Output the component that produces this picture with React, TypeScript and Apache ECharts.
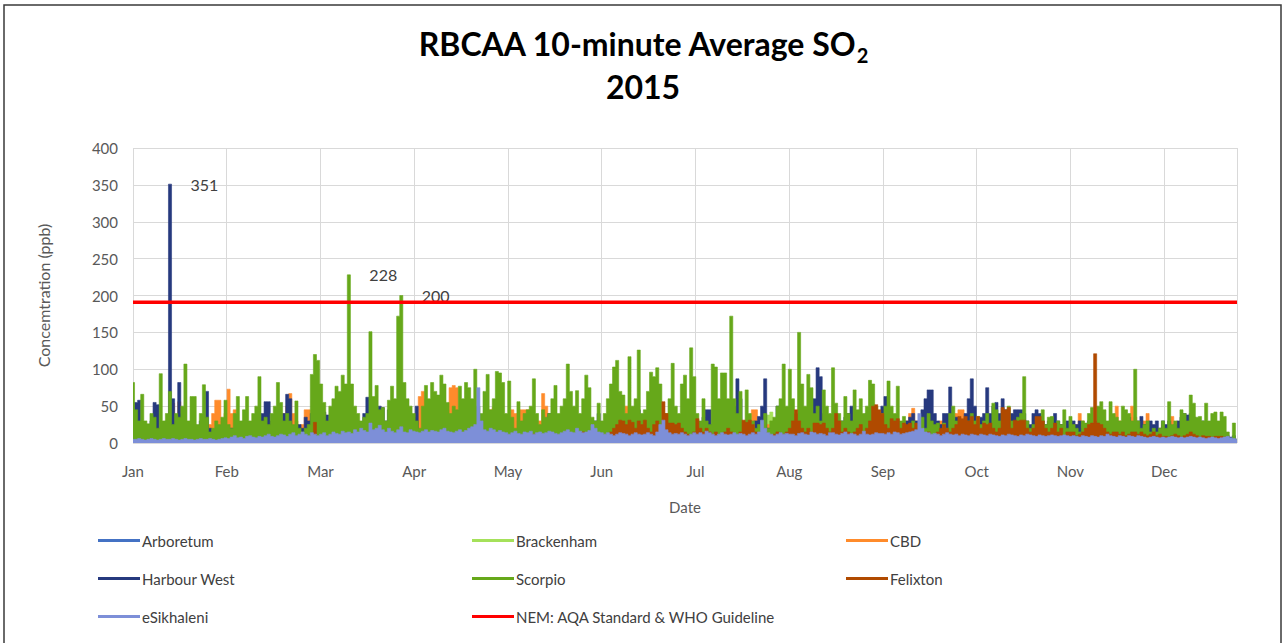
import React, { useEffect, useRef } from "react";
import * as echarts from "echarts";

// ---- Axis labels ----
const months = ["Jan", "Feb", "Mar", "Apr", "May", "Jun", "Jul", "Aug", "Sep", "Oct", "Nov", "Dec"];
const monthSpan = 30.4; // days per month tick
const lastDay = 358;
const nemStandard = 191;

// ---- Series values (one value per day, day 0 = 1 Jan) ----
const scorpio = [
  82,45,30,66,30,26,40,35,20,94,30,40,70,25,40,35,50,107,30,63,63,25,40,79,35,15,20,30,25,35,58,
  25,20,40,63,30,45,63,30,40,50,90,30,35,25,40,50,82,55,30,40,30,25,57,20,15,20,25,93,120,112,
  80,55,30,50,60,77,70,92,80,228,80,50,40,30,35,40,151,63,78,45,48,30,58,77,60,172,200,82,60,50,40,
  30,20,50,78,60,82,70,65,92,80,55,40,50,45,77,60,82,75,60,100,50,40,70,93,45,60,97,95,82,40,
  84,35,20,56,30,40,45,50,87,40,25,45,35,40,60,78,40,50,60,107,70,50,71,40,60,92,75,35,30,54,30,
  40,60,80,103,112,70,65,40,117,50,60,126,40,45,70,96,90,102,80,30,40,60,108,50,40,80,92,60,129,90,
  40,30,60,30,25,107,103,60,95,95,60,172,60,40,70,30,72,40,30,20,25,30,40,20,30,35,50,60,107,50,100,
  60,40,150,80,50,93,75,40,50,30,72,50,40,102,54,40,30,63,40,30,72,45,60,40,50,85,80,50,30,40,
  50,84,50,40,77,30,36,20,25,30,15,25,35,20,40,30,25,27,15,27,20,40,50,30,20,30,25,30,40,30,
  36,25,30,40,20,54,45,30,40,35,50,30,25,35,40,90,30,20,25,20,30,45,25,35,36,20,30,25,45,20,36,
  25,20,15,30,27,40,48,25,50,56,45,30,56,40,35,30,50,45,40,30,100,30,20,25,30,15,20,15,20,30,
  20,56,25,30,20,45,40,30,65,54,35,36,30,54,30,40,42,30,42,36,15,5,27,5,
];

const harbourWest = [
  20,55,58,25,15,20,30,55,52,20,15,30,351,60,20,82,40,15,20,30,25,20,30,35,70,20,15,10,20,15,20,
  15,20,15,25,20,30,25,15,20,30,25,40,56,56,30,20,25,30,40,66,60,20,15,25,20,35,30,40,20,30,
  40,42,38,30,20,25,30,20,35,40,25,20,30,28,40,62,58,40,30,50,48,30,45,30,20,40,30,25,30,40,35,
  50,15,12,15,20,15,12,10,15,20,25,15,12,15,10,12,15,20,15,12,10,15,20,25,30,25,15,12,15,12,
  15,12,10,15,12,10,15,20,15,12,15,20,30,40,30,15,12,15,20,15,30,25,15,12,15,20,15,12,30,40,20,
  15,12,15,20,15,12,15,20,15,12,30,45,20,15,12,15,20,15,12,15,20,15,12,15,20,15,12,15,12,15,
  20,20,35,45,45,25,20,25,30,25,20,25,50,87,60,25,20,25,20,30,36,50,87,20,20,30,50,30,25,20,25,
  30,25,30,20,25,30,40,60,102,90,40,30,25,30,20,25,30,35,40,50,30,25,20,30,40,35,30,25,40,50,
  63,40,30,25,30,20,25,30,35,40,30,30,45,60,72,72,40,30,25,40,40,76,30,35,30,25,40,60,87,50,
  30,35,40,75,40,50,55,40,60,45,30,40,45,45,45,40,30,25,40,45,40,30,25,30,35,40,30,25,20,30,25,
  30,25,30,20,25,30,20,25,30,35,25,20,30,25,30,20,25,30,35,25,20,30,36,25,20,30,25,30,20,30,
  25,30,20,25,30,35,40,38,40,35,30,25,30,20,25,30,20,25,20,15,10,8,10,5,
];

const cbd = [
  10,15,20,25,15,10,20,15,10,20,15,25,30,54,30,56,35,20,15,10,15,20,10,15,20,25,40,58,58,30,40,
  73,40,45,30,20,15,25,20,30,25,20,15,20,25,20,30,25,20,40,50,67,40,30,20,25,45,45,30,25,20,
  20,40,30,20,15,20,25,20,15,30,20,25,20,15,20,25,20,15,25,30,20,15,20,25,30,20,15,25,20,30,35,
  40,63,70,60,30,25,20,30,25,35,45,75,78,75,30,20,25,20,15,20,25,30,20,25,45,48,45,30,25,20,
  30,45,40,30,45,45,45,40,30,25,30,67,50,30,25,20,30,25,20,15,20,25,30,20,25,20,15,20,25,30,20,
  15,20,25,20,15,20,25,50,50,45,20,15,20,25,20,15,20,25,20,15,20,25,20,15,20,15,20,25,20,15,
  20,15,20,25,20,15,20,25,20,15,20,25,20,15,20,25,20,30,45,45,20,15,20,25,20,15,20,25,20,15,20,
  20,25,20,15,20,25,30,20,15,20,25,20,15,20,25,30,20,15,20,25,20,30,40,20,15,20,25,20,15,20,
  25,20,30,25,20,25,20,30,40,47,30,20,25,20,15,20,25,20,30,25,20,25,30,40,45,45,30,20,25,20,
  20,25,30,20,25,30,20,15,20,25,20,15,20,25,30,20,25,20,15,20,25,30,20,25,20,15,20,25,20,15,20,
  20,25,40,30,20,25,20,15,20,25,30,20,25,30,50,30,25,20,30,50,35,20,25,30,40,25,20,15,20,25,
  20,25,36,20,15,20,25,20,15,20,25,20,15,20,25,20,15,20,15,10,8,5,5,5,
];

const felixton = [
  2,3,2,4,3,2,5,3,2,3,4,2,3,5,3,2,4,3,2,3,2,4,3,2,3,5,2,3,2,4,3,
  2,3,4,2,3,5,3,2,4,3,2,3,5,4,3,2,3,4,2,3,4,3,2,5,4,3,6,10,28,8,
  5,4,6,8,5,4,3,5,4,6,5,4,3,5,6,4,5,8,10,6,5,4,6,5,4,3,5,4,6,5,4,
  5,6,4,5,8,10,6,5,4,6,5,4,8,6,5,4,6,5,8,6,5,4,6,8,10,12,8,6,10,8,
  10,8,12,10,8,6,10,8,12,10,8,10,8,6,10,12,10,8,10,15,12,8,10,12,15,10,8,12,10,8,12,
  10,12,15,20,25,31,30,25,31,28,20,30,25,31,20,15,25,30,20,56,40,27,27,25,27,20,15,12,10,15,
  33,20,15,20,15,12,15,10,12,15,20,15,12,10,15,31,28,31,25,15,10,12,15,10,8,12,15,10,12,15,20,
  30,45,30,20,15,20,15,27,27,25,27,20,15,20,40,30,15,20,15,12,15,20,25,15,20,30,50,52,45,40,
  25,20,33,30,33,20,27,25,27,20,27,15,10,12,15,10,12,15,20,25,20,15,20,25,36,33,36,30,36,25,
  36,20,27,25,27,20,15,20,48,45,48,20,31,30,31,31,20,15,20,36,36,30,20,15,20,27,15,20,10,15,15,
  15,10,12,15,20,25,27,121,27,25,20,15,12,15,15,12,15,10,12,15,15,12,15,12,10,12,15,10,12,9,
  9,8,10,12,10,8,10,12,15,12,10,8,10,9,9,8,9,9,9,8,6,5,4,4,
];

const eSikhaleni = [
  5,5,6,5,4,5,6,5,4,5,6,5,5,6,5,4,5,6,5,5,4,5,6,5,5,6,5,4,5,6,7,
  6,8,10,7,8,6,9,10,8,7,9,8,10,12,9,8,10,12,11,9,12,14,10,12,15,12,10,14,12,10,
  12,14,10,12,15,13,12,16,14,15,13,18,15,20,17,15,27,18,20,24,18,15,20,16,14,18,22,15,14,18,16,
  15,14,16,18,15,17,16,15,18,20,16,15,14,16,18,15,17,20,22,25,75,30,18,16,20,18,15,17,15,14,
  12,14,16,13,12,15,14,16,12,14,15,13,14,16,15,13,12,14,16,18,15,14,20,16,14,15,17,25,20,15,14,
  12,14,12,10,12,14,13,12,10,12,14,12,11,12,14,12,10,15,25,31,18,14,12,13,12,14,12,10,12,14,
  12,14,12,16,14,12,10,12,14,12,11,12,14,12,13,12,10,12,14,12,15,31,20,14,12,10,12,14,12,13,12,
  12,10,13,14,12,11,15,14,12,13,12,10,14,14,12,11,13,15,12,13,12,10,12,16,12,11,12,14,13,13,
  12,14,12,15,14,12,13,14,15,16,18,40,20,15,14,12,13,12,10,12,14,12,11,12,10,12,11,10,12,11,
  10,12,11,10,12,11,10,9,11,10,12,11,10,9,11,10,12,11,10,9,11,10,9,10,11,10,9,10,11,10,9,
  10,9,8,10,9,8,10,9,8,10,9,12,10,9,8,10,9,8,10,9,8,10,9,8,7,8,9,8,7,8,
  7,8,9,8,7,8,7,8,9,8,7,8,7,6,7,8,7,6,7,8,9,7,6,5,
];

// sparse [day, value] readings for the stations that are mostly hidden
const arboretum = [[0,3],[25,4],[50,5],[80,6],[110,6],[140,5],[170,5],[200,4],[230,5],[260,4],[290,4],[320,3],[358,3]];
const brackenham = [[0,2],[60,3],[120,3],[180,4],[205,3],[206,38],[207,42],[208,3],[240,3],[300,2],[358,2]];

// annotated peaks: [series, day, text]
const peaks = [
  ["Harbour West", 12, "351"],
  ["Scorpio", 70, "228"],
  ["Scorpio", 87, "200"],
];

const COLORS: Record<string, string> = {
  Arboretum: "#4472C4",
  Brackenham: "#A5E15A",
  CBD: "#FF8B2B",
  "Harbour West": "#26397E",
  Scorpio: "#66A81A",
  Felixton: "#B04A00",
  eSikhaleni: "#7D8FD8",
  "NEM: AQA Standard & WHO Guideline": "#FF0000",
};

const FONT = "Lato, 'Open Sans', sans-serif";

function toPoints(arr: number[]) {
  return arr.map((v, i) => [i, v]);
}

function areaSeries(name: string, data: any[], z: number, values?: number[]) {
  const color = COLORS[name];
  const marks = peaks
    .filter((p) => p[0] === name && values)
    .map((p) => ({
      coord: [p[1] as number, (values as number[])[p[1] as number]],
      value: p[2],
    }));
  return {
    name,
    type: "line",
    step: "middle",
    symbol: "none",
    z,
    data,
    lineStyle: { color, width: 0.6 },
    itemStyle: { color },
    areaStyle: { color, opacity: 1 },
    markPoint: marks.length
      ? {
          symbol: "rect",
          symbolSize: 1,
          itemStyle: { color: "rgba(0,0,0,0)" },
          label: {
            show: true,
            position: "right",
            distance: 20,
            formatter: (p: any) => p.value,
            color: "#404040",
            fontSize: 16,
            fontFamily: FONT,
          },
          data: marks,
        }
      : undefined,
  };
}

export default function App() {
  const ref = useRef<HTMLDivElement>(null);
  useEffect(() => {
    document.body.style.margin = "0";
    const chart = echarts.init(ref.current!, undefined, { renderer: "svg" });
    const legendBase = {
      orient: "vertical",
      top: 528,
      itemGap: 23,
      itemWidth: 42,
      itemHeight: 3,
      icon: "rect",
      textStyle: { fontSize: 15, color: "#404040", fontFamily: FONT, padding: [0, 0, 0, -3] },
      selectedMode: false,
    };
    chart.setOption({
      animation: false,
      backgroundColor: "#ffffff",
      title: {
        left: "center",
        top: 17,
        text: "{a|RBCAA 10-minute Average SO}{s|2}\n{a|2015}",
        textStyle: {
          rich: {
            a: { fontSize: 32, fontWeight: "bold", color: "#000", fontFamily: FONT, lineHeight: 43 },
            s: { fontSize: 20, fontWeight: "bold", color: "#000", fontFamily: FONT, padding: [22, 0, 0, 0], lineHeight: 43 },
          },
        },
      },
      graphic: [
        {
          type: "rect",
          shape: { x: 4, y: 5, width: 1277, height: 640 },
          style: { fill: "none", stroke: "#3a3a3a", lineWidth: 1.5 },
          silent: true,
        },
      ],
      grid: { left: 133, right: 49, top: 148, bottom: 200 },
      xAxis: {
        type: "value",
        min: 0,
        max: lastDay,
        interval: monthSpan,
        name: "Date",
        nameLocation: "middle",
        nameGap: 56,
        nameTextStyle: { fontSize: 15, color: "#595959", fontFamily: FONT },
        axisLine: { show: false },
        axisTick: { show: false },
        axisLabel: {
          margin: 20,
          fontSize: 15,
          color: "#595959",
          fontFamily: FONT,
          showMaxLabel: false,
          formatter: (v: number) => {
            const i = Math.round(v / monthSpan);
            return Math.abs(v - i * monthSpan) < 0.05 && i < months.length ? months[i] : "";
          },
        },
        splitLine: { show: true, lineStyle: { color: "#d9d9d9", width: 1 } },
      },
      yAxis: {
        type: "value",
        min: 0,
        max: 400,
        interval: 50,
        name: "Concemtration (ppb)",
        nameLocation: "middle",
        nameGap: 82,
        nameTextStyle: { fontSize: 16, color: "#595959", fontFamily: FONT },
        axisLine: { show: false },
        axisTick: { show: false },
        axisLabel: { margin: 15, fontSize: 15, color: "#595959", fontFamily: FONT },
        splitLine: { show: true, lineStyle: { color: "#d9d9d9", width: 1 } },
      },
      legend: [
        { ...legendBase, left: 93, data: ["Arboretum", "Harbour West", "eSikhaleni"] },
        { ...legendBase, left: 467, data: ["Brackenham", "Scorpio", "NEM: AQA Standard & WHO Guideline"] },
        { ...legendBase, left: 841, data: ["CBD", "Felixton"] },
      ],
      series: [
        areaSeries("Arboretum", arboretum, 2),
        areaSeries("Brackenham", brackenham, 3),
        areaSeries("CBD", toPoints(cbd), 4),
        areaSeries("Harbour West", toPoints(harbourWest), 5, harbourWest),
        areaSeries("Scorpio", toPoints(scorpio), 6, scorpio),
        areaSeries("Felixton", toPoints(felixton), 7),
        areaSeries("eSikhaleni", toPoints(eSikhaleni), 8),
        {
          name: "NEM: AQA Standard & WHO Guideline",
          type: "line",
          symbol: "none",
          z: 10,
          data: [
            [0, nemStandard],
            [lastDay, nemStandard],
          ],
          lineStyle: { color: COLORS["NEM: AQA Standard & WHO Guideline"], width: 3.5 },
          itemStyle: { color: COLORS["NEM: AQA Standard & WHO Guideline"] },
        },
      ],
    });
    return () => chart.dispose();
  }, []);
  return <div ref={ref} style={{ width: 1286, height: 643 }} />;
}
